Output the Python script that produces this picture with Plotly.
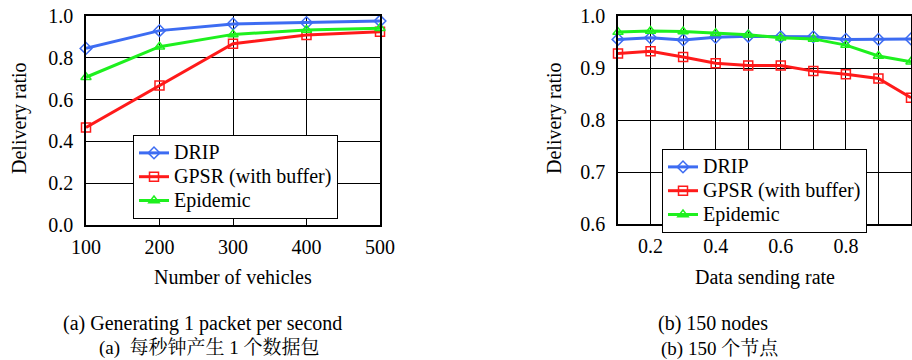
import plotly.graph_objects as go

# ---- data: panel (a) ----
vehicles = [100, 200, 300, 400, 500]
drip_a = [0.845, 0.930, 0.962, 0.968, 0.976]
gpsr_a = [0.467, 0.667, 0.867, 0.909, 0.925]
epid_a = [0.707, 0.853, 0.912, 0.933, 0.941]

# ---- data: panel (b) ----
rate = [0.1, 0.2, 0.3, 0.4, 0.5, 0.6, 0.7, 0.8, 0.9, 1.0]
drip_b = [0.955, 0.958, 0.954, 0.959, 0.961, 0.960, 0.960, 0.955, 0.955, 0.956]
gpsr_b = [0.928, 0.932, 0.921, 0.909, 0.905, 0.905, 0.894, 0.888, 0.880, 0.843]
epid_b = [0.969, 0.971, 0.970, 0.967, 0.964, 0.958, 0.956, 0.944, 0.923, 0.912]

series_names = ["DRIP", "GPSR (with buffer)", "Epidemic"]
colors = ["#3d6cf2", "#ff1a1a", "#1ef01e"]
symbols = ["diamond-open", "square-open", "triangle-up-open"]

FONT = "Liberation Serif, Times New Roman, serif"
CJK = "Liberation Serif, Noto Serif CJK SC, Noto Sans CJK SC, serif"


def leg_label(s):
    return '<span style="font-size:20px">' + s + "</span>"


fig = go.Figure()

for ys, name, c, s in zip([drip_a, gpsr_a, epid_a], series_names, colors, symbols):
    fig.add_trace(go.Scatter(
        x=vehicles, y=ys, name=leg_label(name), mode="lines+markers",
        line=dict(color=c, width=3), cliponaxis=False,
        marker=dict(symbol=s, size=9, color=c, line=dict(color=c, width=1.5)),
        xaxis="x", yaxis="y", legend="legend"))

for ys, name, c, s in zip([drip_b, gpsr_b, epid_b], series_names, colors, symbols):
    fig.add_trace(go.Scatter(
        x=rate, y=ys, name=leg_label(name), mode="lines+markers",
        line=dict(color=c, width=3), cliponaxis=False,
        marker=dict(symbol=s, size=9, color=c, line=dict(color=c, width=1.5)),
        xaxis="x2", yaxis="y2", legend="legend2"))

W, H = 912, 360
axis_common = dict(showline=True, linecolor="black", linewidth=1.5, mirror=True,
                   showgrid=True, gridcolor="black", gridwidth=1, zeroline=False,
                   automargin=False, ticks="",
                   tickfont=dict(family=FONT, size=20, color="black"))

fig.update_layout(
    template="none",
    width=W, height=H, margin=dict(l=0, r=0, t=0, b=0, autoexpand=False),
    paper_bgcolor="white", plot_bgcolor="white",
    font=dict(family=FONT, size=20, color="black"),
    xaxis=dict(domain=[86 / W, 380 / W], range=[100, 500], tickvals=vehicles,
               anchor="y", ticklabelstandoff=3, **axis_common),
    yaxis=dict(domain=[1 - 225 / H, 1 - 16 / H], range=[0, 1.0], dtick=0.2,
               tickformat=".1f", anchor="x", ticklabelstandoff=7, **axis_common),
    xaxis2=dict(domain=[618 / W, 911 / W], range=[0.1, 1.0],
                tickvals=rate, ticktext=["", "0.2", "", "0.4", "", "0.6", "", "0.8", "", "1"],
                anchor="y2", ticklabelstandoff=3, **axis_common),
    yaxis2=dict(domain=[1 - 224 / H, 1 - 16 / H], range=[0.6, 1.0], dtick=0.1,
                tickformat=".1f", anchor="x2", ticklabelstandoff=7, **axis_common),
    legend=dict(x=133 / W, y=1 - 135 / H, xanchor="left", yanchor="top",
                bgcolor="white", bordercolor="black", borderwidth=1,
                font=dict(family=FONT, size=16, color="black"), itemwidth=30, tracegroupgap=0),
    legend2=dict(x=662 / W, y=1 - 149 / H, xanchor="left", yanchor="top",
                 bgcolor="white", bordercolor="black", borderwidth=1,
                 font=dict(family=FONT, size=16, color="black"), itemwidth=30, tracegroupgap=0),
    showlegend=True,
)

annots = [
    dict(text="Number of vehicles", x=233 / W, y=1 - 277 / H),
    dict(text="Data sending rate", x=765 / W, y=1 - 277 / H),
    dict(text="Delivery ratio", x=20 / W, y=1 - 118 / H, textangle=-90),
    dict(text="Delivery ratio", x=555 / W, y=1 - 118 / H, textangle=-90),
    dict(text="(a) Generating 1 packet per second", x=202 / W, y=1 - 323 / H),
    dict(text="(a)  每秒钟产生 1 个数据包", x=209 / W, y=1 - 348 / H, size=19, fam=CJK),
    dict(text="(b) 150 nodes", x=713 / W, y=1 - 323 / H),
    dict(text="(b) 150 个节点", x=720 / W, y=1 - 348 / H, size=19, fam=CJK),
]
for a in annots:
    fig.add_annotation(
        text=a["text"], x=a["x"], y=a["y"], xref="paper", yref="paper",
        xanchor="center", yanchor="middle", showarrow=False,
        textangle=a.get("textangle", 0),
        font=dict(family=a.get("fam", FONT), size=a.get("size", 20), color="black"))

fig.write_html("out.html")
